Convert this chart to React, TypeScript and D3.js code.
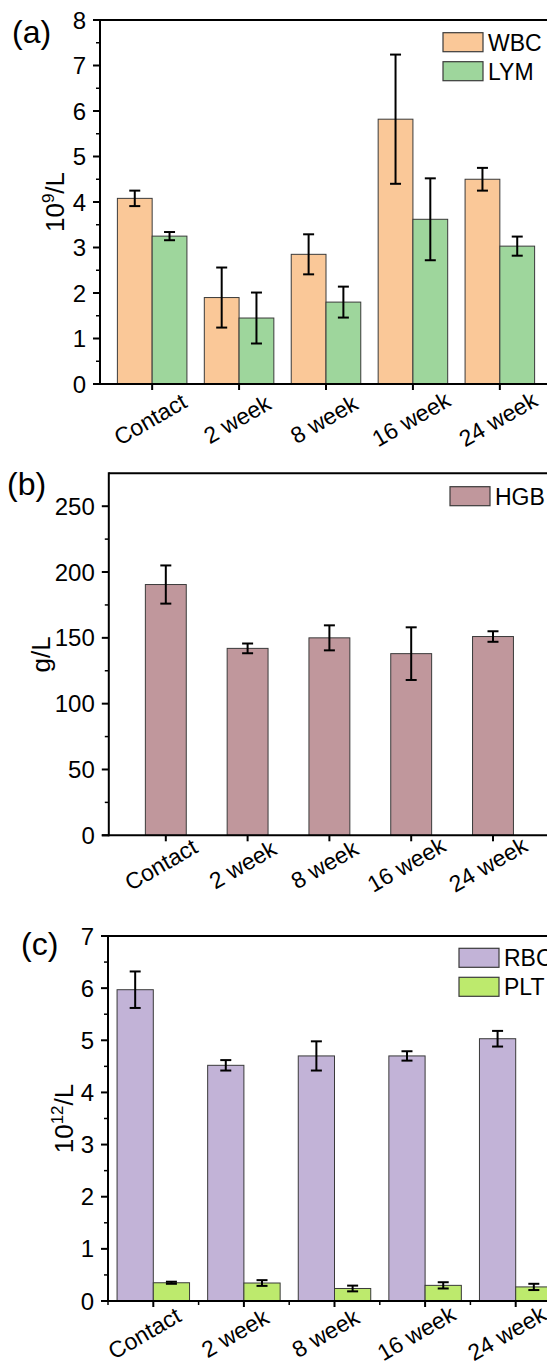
import React from "react";
import * as d3 from "d3";

const categories = ["Contact", "2 week", "8 week", "16 week", "24 week"];

const wbc = [4.08, 1.9, 2.85, 5.82, 4.5];
const wbcErr = [0.17, 0.66, 0.44, 1.42, 0.25];
const lym = [3.25, 1.45, 1.8, 3.62, 3.03];
const lymErr = [0.09, 0.56, 0.34, 0.9, 0.21];

const hgb = [190.5, 142, 150, 138, 151];
const hgbErr = [14.5, 3.7, 9.5, 20, 4];

const rbc = [5.97, 4.52, 4.7, 4.7, 5.03];
const rbcErr = [0.35, 0.1, 0.28, 0.09, 0.15];
const plt = [0.35, 0.345, 0.24, 0.3, 0.27];
const pltErr = [0.02, 0.055, 0.055, 0.06, 0.06];

const FONT = "'Liberation Sans', Arial, sans-serif";
const W = 547;
const H = 1367;

type Series = { name: string; values: number[]; errors: number[]; color: string };

type PanelProps = {
  tag: string;
  tagX: number;
  tagY: number;
  left: number;
  right: number;
  top: number;
  bottom: number;
  yMax: number;
  majorTicks: number[];
  minorTicks: number[];
  padding: number;
  barFrac: number;
  series: Series[];
  xMinor?: boolean;
  labelDx: number;
  labelDy: number;
  yLabel: React.ReactNode;
  yLabelX: number;
  legendX: number;
  legendY: number;
};

function Panel(p: PanelProps) {
  const x = d3.scalePoint<string>().domain(categories).range([p.left, p.right]).padding(p.padding);
  const y = d3.scaleLinear().domain([0, p.yMax]).range([p.bottom, p.top]);
  const step = x.step();
  const bw = step * p.barFrac;
  const n = p.series.length;
  const capW = 11;
  const midY = (p.top + p.bottom) / 2;
  return (
    <g>
      <text x={p.tagX} y={p.tagY} fontSize={32} fontFamily={FONT}>{p.tag}</text>
      {p.series.map((s, si) =>
        categories.map((c, i) => {
          const cx = x(c)!;
          const x0 = cx - (n * bw) / 2 + si * bw;
          const v = s.values[i];
          return (
            <rect key={s.name + c} x={x0} y={y(v)} width={bw} height={y(0) - y(v)}
              fill={s.color} stroke="#3a3a3a" strokeWidth={1} />
          );
        })
      )}
      {p.series.map((s, si) =>
        categories.map((c, i) => {
          const cx = x(c)! - (n * bw) / 2 + si * bw + bw / 2;
          const v = s.values[i];
          const e = s.errors[i];
          return (
            <g key={"e" + s.name + c} stroke="#000" strokeWidth={2}>
              <line x1={cx} x2={cx} y1={y(v + e)} y2={y(v - e)} />
              <line x1={cx - capW / 2} x2={cx + capW / 2} y1={y(v + e)} y2={y(v + e)} />
              <line x1={cx - capW / 2} x2={cx + capW / 2} y1={y(v - e)} y2={y(v - e)} />
            </g>
          );
        })
      )}
      <line x1={p.left} x2={W} y1={p.top} y2={p.top} stroke="#000" strokeWidth={2} />
      <line x1={p.left} x2={p.left} y1={p.top - 1} y2={p.bottom + 1} stroke="#000" strokeWidth={2} />
      <line x1={p.left - 7} x2={W} y1={p.bottom} y2={p.bottom} stroke="#000" strokeWidth={2} />
      {p.majorTicks.map((t) => (
        <g key={"yt" + t}>
          <line x1={p.left - 7} x2={p.left} y1={y(t)} y2={y(t)} stroke="#000" strokeWidth={2} />
          <text x={p.left - 14} y={y(t)} dy="0.36em" textAnchor="end" fontSize={24} fontFamily={FONT}>{t}</text>
        </g>
      ))}
      {p.minorTicks.map((t) => (
        <line key={"ym" + t} x1={p.left - 4} x2={p.left} y1={y(t)} y2={y(t)} stroke="#000" strokeWidth={1.5} />
      ))}
      {categories.map((c) => (
        <g key={"xt" + c}>
          <line x1={x(c)!} x2={x(c)!} y1={p.bottom} y2={p.bottom + 6} stroke="#000" strokeWidth={2} />
          <text transform={`translate(${x(c)! + p.labelDx},${p.bottom + p.labelDy}) rotate(-30)`}
            textAnchor="middle" dy="0.36em" fontSize={23} fontFamily={FONT}>{c}</text>
        </g>
      ))}
      {p.xMinor && categories.map((c) => (
        <line key={"xm" + c} x1={x(c)! - step / 2} x2={x(c)! - step / 2} y1={p.bottom} y2={p.bottom + 4}
          stroke="#000" strokeWidth={1.5} />
      ))}
      <text transform={`translate(${p.yLabelX},${midY}) rotate(-90)`} textAnchor="middle"
        fontSize={26} fontFamily={FONT}>{p.yLabel}</text>
      {p.series.map((s, si) => (
        <g key={"lg" + s.name}>
          <rect x={p.legendX} y={p.legendY + si * 29} width={40} height={19} fill={s.color}
            stroke="#3a3a3a" strokeWidth={1.2} />
          <text x={p.legendX + 45} y={p.legendY + si * 29 + 18} fontSize={23} fontFamily={FONT}>{s.name}</text>
        </g>
      ))}
    </g>
  );
}

export default function App() {
  return (
    <div style={{ position: "absolute", left: 0, top: 0, background: "#fff" }}>
      <svg width={W} height={H} viewBox={`0 0 ${W} ${H}`} style={{ display: "block" }}>
        <rect width={W} height={H} fill="#fff" />
        <Panel tag="(a)" tagX={12} tagY={43} left={100} right={552} top={20} bottom={384} yMax={8}
          majorTicks={d3.range(0, 9, 1)} minorTicks={d3.range(0.5, 8, 1)} padding={0.6} barFrac={0.4}
          series={[
            { name: "WBC", values: wbc, errors: wbcErr, color: "#FAC898" },
            { name: "LYM", values: lym, errors: lymErr, color: "#9ED69C" },
          ]}
          labelDx={-2} labelDy={35}
          yLabel={<><tspan>10</tspan><tspan dy="-10" fontSize={17}>9</tspan><tspan dy="10">/L</tspan></>}
          yLabelX={64} legendX={443} legendY={32.7} />
        <Panel tag="(b)" tagX={7} tagY={495} left={108.8} right={550} top={473.3} bottom={835.3} yMax={275}
          majorTicks={d3.range(0, 251, 50)} minorTicks={d3.range(25, 275, 50)} padding={0.697} barFrac={0.5}
          series={[{ name: "HGB", values: hgb, errors: hgbErr, color: "#C0979C" }]}
          labelDx={-5} labelDy={29}
          yLabel={"g/L"} yLabelX={50} legendX={450} legendY={486.7} />
        <Panel tag="(c)" tagX={21} tagY={955} left={108} right={561} top={936} bottom={1301} yMax={7}
          majorTicks={d3.range(0, 8, 1)} minorTicks={d3.range(0.5, 7, 1)} padding={0.5} barFrac={0.4}
          series={[
            { name: "RBC", values: rbc, errors: rbcErr, color: "#C2B3D7" },
            { name: "PLT", values: plt, errors: pltErr, color: "#BDEA6D" },
          ]}
          xMinor={true}
          labelDx={-9} labelDy={32}
          yLabel={<><tspan>10</tspan><tspan dy="-10" fontSize={17}>12</tspan><tspan dy="10">/L</tspan></>}
          yLabelX={73} legendX={459} legendY={948.3} />
      </svg>
    </div>
  );
}
